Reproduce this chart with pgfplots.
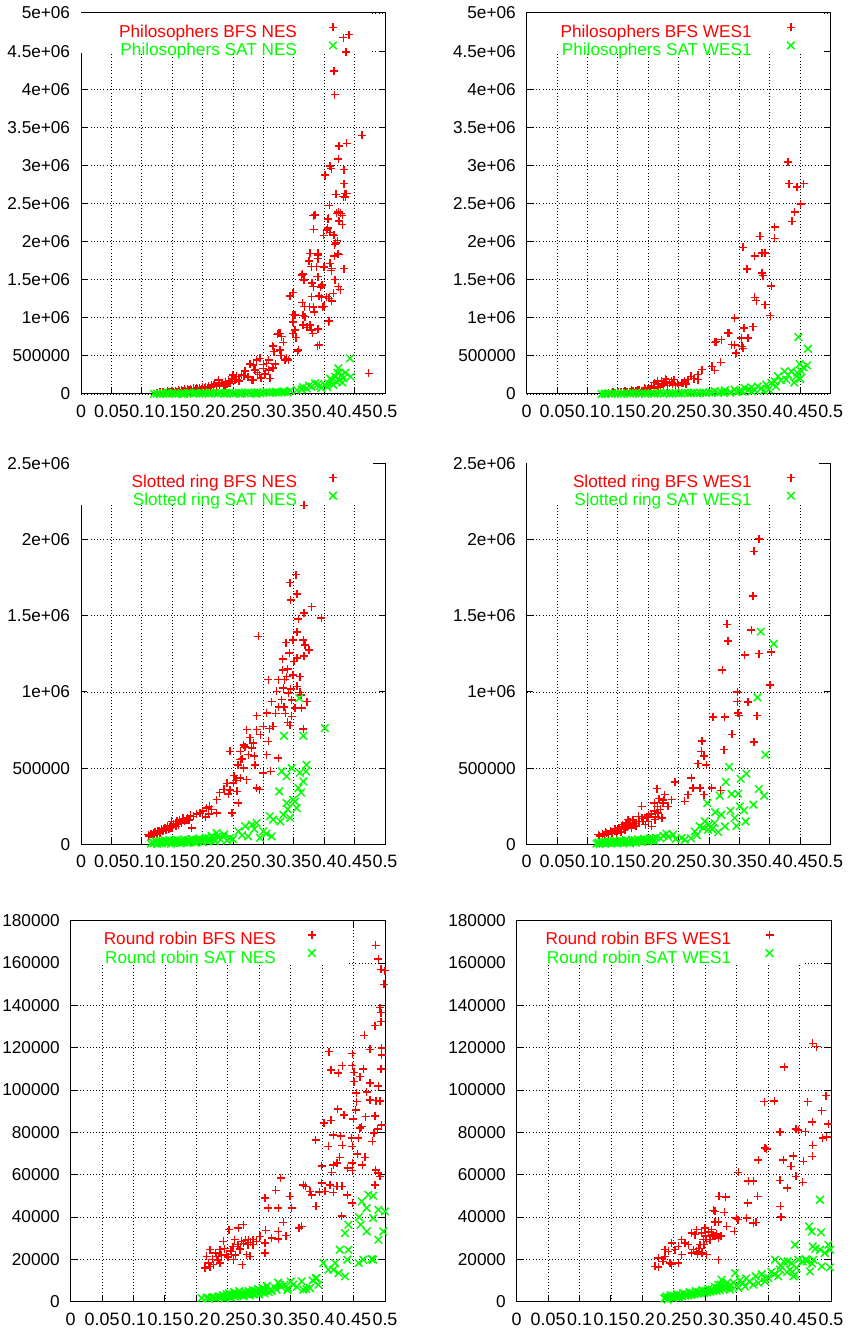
\documentclass[border=0pt]{standalone}
\usepackage{fontspec}
\setmainfont{Liberation Sans}
\usepackage{pgfplots}
\pgfplotsset{compat=1.18}
\definecolor{gpred}{RGB}{255,0,0}
\definecolor{gpgreen}{RGB}{0,255,0}
\pgfplotsset{
 gp/.style={scale only axis, width=228pt, height=285.75pt, anchor=north west,
  xmin=0, xmax=0.5, ymin=0, clip=false,
  axis line style={line width=0.75pt}, tick style={line width=0.75pt, black},
  major tick length=4.7pt, tick align=inside, minor tick num=0,
  xtick={0,0.05,0.1,0.15,0.2,0.25,0.3,0.35,0.4,0.45,0.5},
  xticklabels={0,0.05,0.1,0.15,0.2,0.25,0.3,0.35,0.4,0.45,0.5},
  scaled ticks=false,
  grid=major, grid style={dotted, black, line width=0.6pt},
  tick label style={font=\fontsize{12.9}{15}\selectfont, inner sep=0pt},
  xticklabel style={yshift=-8pt, font=\fontsize{13.4}{15}\selectfont}, yticklabel style={xshift=-8pt},
  /pgf/number format/assume math mode=true,
  legend cell align=right, legend plot pos=right,
  legend image code/.code={\draw[##1] plot coordinates {(0pt,4.4pt)};},
  legend style={draw=none, fill=none, inner sep=0pt, anchor=north east,
    font=\fontsize{12.9}{15}\selectfont,
    nodes={inner sep=0pt, text height=9.5pt, text depth=3.25pt}},
 },
 bfs/.style={only marks, mark=+, mark size=3pt, draw=gpred, fill=gpred,
   mark options={draw=gpred, fill=gpred, line width=1.1pt, solid}},
 sat/.style={only marks, mark=x, mark size=4pt, draw=gpgreen, fill=gpgreen,
   mark options={draw=gpgreen, fill=gpgreen, line width=1.1pt, solid}},
 ytA/.style={ymax=5000000, ytick={0,500000,1000000,1500000,2000000,2500000,3000000,3500000,4000000,4500000,5000000},
   yticklabels={0,500000,1e+06,1.5e+06,2e+06,2.5e+06,3e+06,3.5e+06,4e+06,4.5e+06,5e+06}},
 ytB/.style={ymax=2500000, ytick={0,500000,1000000,1500000,2000000,2500000},
   yticklabels={0,500000,1e+06,1.5e+06,2e+06,2.5e+06}},
 ytC/.style={ymax=180000, ytick={0,20000,40000,60000,80000,100000,120000,140000,160000,180000},
   yticklabels={0,20000,40000,60000,80000,100000,120000,140000,160000,180000}},
}
\begin{document}
\begin{tikzpicture}
\useasboundingbox (0,0) rectangle (638.25pt,-997.5pt);

% ---------------- Panel 1 ----------------
\begin{axis}[gp, ytA, at={(60.75pt,-9.75pt)},
  legend style={at={(axis description cs:0.843,1)}, yshift=-7.5pt, column sep=24pt}]
\fill[white] (rel axis cs:0,1) rectangle (rel axis cs:0.95,0.895);
\addplot[bfs] coordinates {
(0.125,10000) (0.13,20000) (0.135,25000) (0.138,12000) (0.142,35000) (0.145,20000) (0.148,30000) (0.15,40000) (0.152,25000) (0.155,45000) (0.158,30000) (0.16,50000) (0.162,35000) (0.165,55000) (0.168,40000) (0.17,60000) (0.172,45000) (0.175,65000) (0.178,50000) (0.18,70000) (0.182,55000) (0.185,75000) (0.188,60000) (0.19,80000) (0.192,65000) (0.195,85000) (0.198,70000) (0.2,90000) (0.203,75000) (0.205,95000) (0.208,80000) (0.21,100000) (0.213,85000) (0.215,115000) (0.218,95000) (0.22,130000) (0.223,105000) (0.226,150000) (0.228,120000) (0.232,140000) (0.235,110000) (0.238,160000) (0.24,130000) (0.243,180000) (0.248,200000) (0.253,190000) (0.256,230000) (0.26,170000) (0.268,240000)
(0.4408,4715000) (0.4315,4676000) (0.4359,4488000) (0.416,4239000) (0.4172,3928000) (0.4622,3395000) (0.437,3290000) (0.4243,3255000) (0.4232,3080000) (0.4095,2990000) (0.412,2957000) (0.402,2865000) (0.4326,2944000) (0.4326,2760000) (0.4194,2620000) (0.437,2629000) (0.435,2585000) (0.4084,2476000) (0.4238,2384000) (0.427,2371000) (0.43,2345000) (0.382,2340000) (0.3827,2161000) (0.4243,2270000) (0.43,2222000) (0.406,2297000) (0.4057,2178000) (0.4095,2122000) (0.399,2082000) (0.416,2082000) (0.4216,2012000) (0.417,1960000) (0.4238,1833000) (0.4167,1811000) (0.3766,1846000) (0.39,1846000) (0.375,1745000) (0.3898,1776000) (0.3787,1671000) (0.4002,1662000) (0.4326,1645000) (0.4117,1619000) (0.3876,1671000) (0.3646,1575000) (0.3668,1496000) (0.39,1540000) (0.3799,1457000) (0.4172,1500000) (0.4265,1369000) (0.3942,1404000) (0.3914,1286000) (0.3958,1264000) (0.4079,1255000) (0.415,1320000) (0.4123,1220000) (0.397,1142000) (0.4079,958000) (0.3438,1286000) (0.349,1330000) (0.364,1200000) (0.3673,1146000) (0.382,1142000) (0.384,1076000) (0.349,1041000) (0.349,945000) (0.365,1032000) (0.365,905000) (0.3717,875000) (0.3766,905000) (0.39,853000) (0.381,796000) (0.389,634000) (0.3487,796000) (0.3536,739000) (0.356,556000) (0.3229,783000) (0.327,796000) (0.3328,678000) (0.315,634000) (0.3174,556000) (0.338,468000) (0.329,507000) (0.3196,394000) (0.3087,446000) (0.2889,446000) (0.3,389000) (0.3087,315000) (0.278,394000) (0.2862,315000) (0.2933,254000) (0.2834,184000) (0.264,249000) (0.25,249000) (0.256,192000) (0.245,140000) (0.237,105000) (0.2259,184000) (0.2177,118000) (0.473,271000) (0.3163,621000) (0.3245,796000) (0.33,752000) (0.3273,577000) (0.3355,446000) (0.341,446000) (0.352,1037000) (0.352,840000) (0.3574,577000) (0.363,1562000) (0.3684,1014000) (0.3755,1146000) (0.3794,1277000) (0.3794,840000) (0.382,1408000) (0.3903,1824000) (0.3887,1540000) (0.385,2349000) (0.392,643000) (0.396,1430000) (0.4,1150000) (0.404,1277000) (0.4068,949000) (0.4095,1715000) (0.4,1670000) (0.404,2152000) (0.4068,2306000) (0.4013,2874000) (0.4205,2371000) (0.4232,2390000) (0.415,2087000) (0.419,1980000) (0.423,1840000) (0.4123,1650000) (0.4177,1500000) (0.4232,1410000) (0.4315,2590000) (0.434,2630000) (0.4232,3090000) (0.3054,403000) (0.311,206000) (0.316,341000) (0.3,337000) (0.2944,468000) (0.281,184000) (0.2834,380000) (0.27,300000) (0.275,220000) (0.29,280000) (0.296,210000) (0.303,260000)
};
\addlegendentry{\textcolor{gpred}{Philosophers BFS NES}}
\addplot[sat] coordinates {
(0.12,2000) (0.125,5000) (0.13,3000) (0.135,8000) (0.14,4000) (0.145,6000) (0.15,10000) (0.155,3000) (0.16,7000) (0.165,12000) (0.17,5000) (0.175,9000) (0.18,14000) (0.185,6000) (0.19,11000) (0.195,4000) (0.2,8000) (0.205,13000) (0.21,5000) (0.215,10000) (0.22,15000) (0.225,7000) (0.23,12000) (0.235,4000) (0.24,9000) (0.245,16000) (0.25,6000) (0.255,11000) (0.26,18000) (0.265,8000) (0.27,13000) (0.275,20000) (0.28,10000) (0.285,15000) (0.29,22000) (0.295,12000) (0.3,18000) (0.305,25000) (0.31,14000) (0.315,20000) (0.32,28000) (0.325,16000) (0.33,24000) (0.335,30000) (0.34,20000) (0.142,15000) (0.168,2000) (0.188,16000) (0.212,18000) (0.238,14000) (0.262,3000) (0.288,5000)
(0.4424,468000) (0.4435,227000) (0.4232,337000) (0.4216,280000) (0.418,227000) (0.412,184000) (0.4287,249000) (0.4315,206000) (0.407,140000) (0.401,118000) (0.393,105000) (0.385,140000) (0.379,96000) (0.371,74000) (0.363,61000) (0.355,52000) (0.344,44000) (0.333,31000) (0.322,26000) (0.43,150000) (0.425,180000) (0.415,120000) (0.405,90000) (0.395,80000) (0.375,110000) (0.365,90000) (0.39,130000) (0.42,160000) (0.435,280000) (0.41,200000)
};
\addlegendentry{\textcolor{gpgreen}{Philosophers SAT NES}}
\end{axis}

% ---------------- Panel 2 ----------------
\begin{axis}[gp, ytA, at={(395pt,-9.75pt)},
  legend style={at={(axis description cs:0.883,1)}, yshift=-7.5pt, column sep=26.3pt}]
\fill[white] (rel axis cs:0,1) rectangle (rel axis cs:0.974,0.895);
\addplot[bfs] coordinates {
(0.43,3046000) (0.4316,2762000) (0.4447,2714000) (0.4556,2762000) (0.4507,2496000) (0.4409,2386000) (0.4365,2264000) (0.408,2194000) (0.408,2041000) (0.3834,2067000) (0.356,1923000) (0.3872,1849000) (0.3916,1849000) (0.375,1814000) (0.3625,1643000) (0.387,1587000) (0.389,1552000) (0.4025,1420000) (0.375,1267000) (0.378,1224000) (0.3916,1171000) (0.4009,1027000) (0.372,883000) (0.3576,865000) (0.342,996000) (0.331,800000) (0.353,734000) (0.364,734000) (0.337,647000) (0.345,538000) (0.354,625000) (0.32,712000) (0.309,677000) (0.319,415000) (0.305,363000) (0.309,310000) (0.2886,319000) (0.282,253000) (0.282,188000) (0.2656,188000) (0.257,144000) (0.238,166000) (0.227,144000) (0.216,100000) (0.205,92000) (0.194,79000) (0.183,57000) (0.1725,48000) (0.1616,35000) (0.15,26000) (0.142,22000)
(0.13,8000) (0.135,12000) (0.14,18000) (0.145,10000) (0.15,15000) (0.155,25000) (0.16,20000) (0.165,30000) (0.17,22000) (0.175,40000) (0.18,35000) (0.185,50000) (0.19,45000) (0.195,60000) (0.2,70000) (0.2,50000) (0.205,110000) (0.21,80000) (0.215,130000) (0.22,90000) (0.222,170000) (0.225,120000) (0.23,190000) (0.232,110000) (0.235,150000) (0.24,130000) (0.242,190000) (0.245,110000) (0.248,140000) (0.25,120000) (0.255,150000) (0.26,170000) (0.262,130000) (0.27,230000) (0.275,200000) (0.21,150000) (0.215,170000) (0.228,200000) (0.3325,796000) (0.3117,686000) (0.342,646000) (0.3557,600000) (0.3436,530000)
};
\addlegendentry{\textcolor{gpred}{Philosophers BFS WES1}}
\addplot[sat] coordinates {
(0.447,747000) (0.4627,594000) (0.461,376000) (0.449,393000) (0.452,297000) (0.4436,232000) (0.435,297000) (0.424,297000) (0.427,188000) (0.4135,232000) (0.408,166000) (0.4025,144000) (0.394,122000) (0.38,100000) (0.3697,87000) (0.3587,79000) (0.342,57000) (0.326,48000) (0.309,39000) (0.45,200000) (0.44,150000) (0.43,250000) (0.418,180000) (0.41,100000) (0.455,350000) (0.445,280000) (0.398,60000) (0.385,70000) (0.375,50000) (0.365,60000) (0.35,40000) (0.335,30000) (0.32,25000) (0.3,20000)
(0.123,2000) (0.128,5000) (0.13,1000) (0.135,8000) (0.14,3000) (0.145,6000) (0.15,10000) (0.155,2000) (0.16,7000) (0.165,12000) (0.17,4000) (0.175,9000) (0.18,14000) (0.185,5000) (0.19,11000) (0.195,3000) (0.2,8000) (0.205,13000) (0.21,5000) (0.215,10000) (0.22,15000) (0.225,6000) (0.23,12000) (0.235,3000) (0.24,9000) (0.245,16000) (0.25,6000) (0.255,11000) (0.26,17000) (0.265,8000) (0.27,13000) (0.275,19000) (0.28,10000) (0.285,15000) (0.29,22000) (0.295,12000) (0.305,18000) (0.315,14000) (0.325,20000) (0.335,15000) (0.345,25000) (0.355,30000) (0.37,35000) (0.39,45000)
};
\addlegendentry{\textcolor{gpgreen}{Philosophers SAT WES1}}
\end{axis}

% ---------------- Panel 3 ----------------
\begin{axis}[gp, ytB, at={(60.75pt,-347.5pt)},
  legend style={at={(axis description cs:0.843,1)}, yshift=-7.5pt, column sep=24pt}]
\fill[white] (rel axis cs:0,1) rectangle (rel axis cs:0.96,0.89);
\addplot[bfs] coordinates {
(0.3668,2225000) (0.3536,1770000) (0.3438,1718000) (0.355,1643000) (0.345,1604000) (0.3794,1560000) (0.3668,1517000) (0.3575,1480000) (0.3953,1484000) (0.2917,1364000) (0.355,1392000) (0.349,1342000) (0.337,1324000) (0.3657,1342000) (0.3684,1309000) (0.375,1276000) (0.3426,1254000) (0.3668,1237000) (0.3317,1217000) (0.355,1222000) (0.3317,1145000) (0.338,1101000) (0.349,1112000) (0.308,1080000) (0.3246,1080000) (0.355,1036000) (0.333,1025000) (0.3218,1003000) (0.341,992000) (0.3602,997000) (0.3465,948000) (0.372,937000) (0.3136,937000) (0.334,900000) (0.352,894000) (0.363,894000) (0.3465,839000) (0.3054,861000) (0.2888,844000) (0.2998,774000) (0.316,774000) (0.3438,780000) (0.3657,756000) (0.2725,752000) (0.2888,752000) (0.308,675000) (0.2834,664000) (0.2675,653000) (0.2807,631000) (0.262,610000) (0.245,610000) (0.2752,588000) (0.3054,588000) (0.3246,566000) (0.262,555000) (0.2862,522000) (0.2675,500000) (0.2998,468000) (0.312,479000) (0.262,435000) (0.2725,424000) (0.2505,402000) (0.2888,369000) (0.245,358000) (0.2565,347000) (0.2423,330000) (0.2588,271000) (0.223,293000) (0.248,205000) (0.211,249000) (0.223,205000) (0.2067,238000) (0.1957,205000) (0.185,184000) (0.182,107000) (0.174,162000) (0.1656,140000) (0.157,118000) (0.149,151000) (0.1464,107000) (0.1354,96000) (0.127,85000) (0.119,74000) (0.1107,63000)
(0.112,55000) (0.115,65000) (0.118,60000) (0.12,70000) (0.122,80000) (0.125,70000) (0.128,90000) (0.13,75000) (0.132,100000) (0.135,85000) (0.138,110000) (0.14,95000) (0.142,120000) (0.145,100000) (0.148,125000) (0.15,110000) (0.152,135000) (0.155,120000) (0.158,150000) (0.16,130000) (0.162,160000) (0.165,140000) (0.168,170000) (0.17,150000) (0.175,175000) (0.178,160000) (0.18,190000) (0.19,200000) (0.2,220000) (0.205,180000) (0.21,200000) (0.215,230000) (0.228,340000) (0.235,360000) (0.24,400000) (0.252,450000) (0.255,420000) (0.258,520000) (0.265,560000) (0.27,640000) (0.278,700000) (0.285,580000) (0.295,720000) (0.31,760000) (0.32,860000) (0.325,900000) (0.33,950000) (0.335,1080000) (0.34,1150000) (0.35,1200000) (0.345,1020000) (0.36,1100000) (0.362,980000) (0.336,860000) (0.34,800000) (0.2933,359000)
};
\addlegendentry{\textcolor{gpred}{Slotted ring BFS NES}}
\addplot[sat] coordinates {
(0.359,959000) (0.401,763000) (0.3657,712000) (0.334,712000) (0.371,522000) (0.37,479000) (0.3465,500000) (0.338,446000) (0.33,479000) (0.3657,413000) (0.3575,369000) (0.326,347000) (0.349,293000) (0.338,271000) (0.3547,238000) (0.3328,194000) (0.3438,173000) (0.316,162000) (0.3107,184000) (0.2888,140000) (0.27,118000) (0.281,129000) (0.259,85000) (0.2998,85000) (0.3136,52000) (0.2944,42000) (0.275,52000) (0.245,42000) (0.223,74000) (0.234,52000) (0.265,60000) (0.285,100000) (0.305,70000) (0.362,340000) (0.352,280000) (0.328,150000) (0.34,230000) (0.36,470000)
(0.115,5000) (0.118,15000) (0.12,8000) (0.123,20000) (0.125,3000) (0.128,12000) (0.13,22000) (0.133,6000) (0.135,16000) (0.138,25000) (0.14,9000) (0.143,18000) (0.145,28000) (0.148,4000) (0.15,14000) (0.153,24000) (0.155,10000) (0.158,30000) (0.16,17000) (0.163,7000) (0.165,26000) (0.168,13000) (0.17,32000) (0.173,20000) (0.175,9000) (0.178,28000) (0.18,15000) (0.183,35000) (0.185,22000) (0.188,11000) (0.19,30000) (0.193,18000) (0.195,38000) (0.198,25000) (0.2,14000) (0.203,33000) (0.205,45000) (0.208,20000) (0.21,40000) (0.213,28000) (0.215,55000) (0.218,35000) (0.22,22000) (0.225,48000) (0.23,30000) (0.235,65000) (0.24,25000) (0.25,35000)
};
\addlegendentry{\textcolor{gpgreen}{Slotted ring SAT NES}}
\end{axis}

% ---------------- Panel 4 ----------------
\begin{axis}[gp, ytB, at={(395pt,-347.5pt)},
  legend style={at={(axis description cs:0.883,1)}, yshift=-7.5pt, column sep=26.3pt}]
\fill[white] (rel axis cs:0,1) rectangle (rel axis cs:0.96,0.89);
\addplot[bfs] coordinates {
(0.3823,2004000) (0.374,1923000) (0.3724,1630000) (0.3297,1444000) (0.3313,1333000) (0.3697,1405000) (0.3587,1243000) (0.3823,1252000) (0.4025,1261000) (0.322,1145000) (0.4003,1045000) (0.3467,1001000) (0.3467,937000) (0.364,933000) (0.3067,837000) (0.3258,837000) (0.3478,861000) (0.35,844000) (0.379,844000) (0.3379,721000) (0.2886,677000) (0.2875,610000) (0.292,581000) (0.3247,621000) (0.374,673000) (0.282,529000) (0.2957,522000) (0.271,435000) (0.2437,409000) (0.304,369000) (0.319,354000) (0.2738,369000) (0.2848,369000) (0.292,326000) (0.2656,326000) (0.26,282000) (0.2147,365000) (0.227,326000) (0.2382,293000) (0.2245,271000) (0.21,271000) (0.2327,249000) (0.2163,205000) (0.2229,173000) (0.189,249000) (0.2,194000) (0.1835,184000) (0.167,162000) (0.1917,151000) (0.175,129000) (0.156,118000) (0.1616,96000) (0.145,85000) (0.1314,74000) (0.1177,63000) (0.2054,118000) (0.2108,162000)
(0.12,55000) (0.125,70000) (0.128,60000) (0.13,80000) (0.135,65000) (0.138,90000) (0.14,75000) (0.145,100000) (0.148,70000) (0.15,95000) (0.152,110000) (0.155,80000) (0.158,130000) (0.16,100000) (0.163,140000) (0.165,115000) (0.168,125000) (0.17,145000) (0.172,105000) (0.175,160000) (0.178,135000) (0.18,120000) (0.185,150000) (0.19,170000) (0.195,130000) (0.198,180000) (0.2,150000) (0.205,200000) (0.21,220000) (0.212,180000) (0.215,250000) (0.218,300000) (0.22,230000) (0.225,290000)
};
\addlegendentry{\textcolor{gpred}{Slotted ring BFS WES1}}
\addplot[sat] coordinates {
(0.385,1396000) (0.4064,1316000) (0.3795,964000) (0.3927,588000) (0.333,507000) (0.352,430000) (0.3614,463000) (0.3275,409000) (0.382,363000) (0.3905,319000) (0.3176,319000) (0.337,330000) (0.3477,332000) (0.297,271000) (0.373,260000) (0.3505,249000) (0.3576,223000) (0.32,194000) (0.342,173000) (0.309,140000) (0.326,118000) (0.293,151000) (0.2848,118000) (0.2985,96000) (0.2766,85000) (0.241,63000) (0.2547,42000) (0.2327,48000) (0.305,100000) (0.315,80000) (0.29,110000) (0.28,60000) (0.3,130000) (0.335,220000) (0.36,150000) (0.345,120000) (0.31,210000) (0.27,40000) (0.26,30000) (0.245,35000) (0.225,55000) (0.23,70000) (0.22,40000)
(0.115,5000) (0.118,12000) (0.12,3000) (0.123,15000) (0.125,8000) (0.128,18000) (0.13,4000) (0.133,12000) (0.135,20000) (0.138,7000) (0.14,16000) (0.143,24000) (0.145,10000) (0.148,20000) (0.15,5000) (0.153,14000) (0.155,25000) (0.158,9000) (0.16,18000) (0.163,28000) (0.165,12000) (0.168,22000) (0.17,7000) (0.173,30000) (0.175,16000) (0.178,26000) (0.18,10000) (0.183,33000) (0.185,20000) (0.188,28000) (0.19,14000) (0.193,36000) (0.195,24000) (0.198,32000) (0.2,18000) (0.203,40000) (0.205,28000) (0.208,36000) (0.21,22000) (0.213,44000)
};
\addlegendentry{\textcolor{gpgreen}{Slotted ring SAT WES1}}
\end{axis}

% ---------------- Panel 5 ----------------
\begin{axis}[gp, ytC, width=235.75pt, at={(53pt,-690.5pt)},
  legend style={at={(axis description cs:0.781,1)}, yshift=-7.5pt, column sep=24pt}]
\fill[white] (rel axis cs:0,1) rectangle (rel axis cs:0.883,0.885);
\addplot[bfs] coordinates {
(0.4852,168350) (0.4894,161900) (0.4936,157030) (0.5,156400) (0.4984,149950) (0.492,138930) (0.4936,136570) (0.484,130440) (0.4936,132320) (0.467,125870) (0.476,119260) (0.4947,119740) (0.4947,116590) (0.4936,109980) (0.411,118160) (0.448,111550) (0.432,111550) (0.448,117220) (0.414,109500) (0.4258,107930) (0.4507,108400) (0.4655,109820) (0.46,106360) (0.4507,104000) (0.476,103210) (0.4894,101960) (0.4544,98490) (0.4708,98960) (0.476,95350) (0.4857,95030) (0.455,94560) (0.492,94870) (0.4247,90940) (0.4533,90630) (0.435,88270) (0.469,87480) (0.4841,87800) (0.403,84340) (0.414,85600) (0.4496,86220) (0.4629,82760) (0.46,81980) (0.4947,83550) (0.4883,81500) (0.4825,79610) (0.418,78830) (0.4295,78350) (0.447,77250) (0.4576,77250) (0.3897,76470) (0.4098,73320) (0.448,73320) (0.432,73790) (0.48,75680) (0.4279,68130) (0.456,69700) (0.468,68130) (0.448,65450) (0.4639,64670) (0.3993,64200) (0.418,64670) (0.4236,65450) (0.4406,63090) (0.448,61990) (0.4852,62300) (0.4894,60730) (0.492,59160) (0.415,61050) (0.4125,55230) (0.4236,54440) (0.4316,54440) (0.4045,52080) (0.418,51610) (0.484,55230) (0.3993,56010) (0.3955,51770) (0.3807,52080) (0.3834,50510) (0.37,55230) (0.3738,54440) (0.39,45000) (0.4401,50510) (0.448,46570) (0.4311,40590)
(0.334,58370) (0.326,52550) (0.349,49720) (0.3515,44210) (0.309,48930) (0.3144,44210) (0.3303,44210) (0.3383,37450) (0.3675,35560) (0.3632,34770) (0.3303,33200) (0.3425,31150) (0.3303,29580) (0.3197,30050) (0.31,33670) (0.309,27690) (0.29,29270) (0.29,26900) (0.2959,28480) (0.301,30840) (0.2826,29270) (0.261,29270) (0.272,28480) (0.2747,36350) (0.2667,34770) (0.252,33990) (0.28,22190) (0.2693,24550) (0.256,23760) (0.248,22190) (0.2428,28480) (0.2375,24550) (0.232,21400) (0.227,17460) (0.2216,24550) (0.2163,21400) (0.2137,15890) (0.219,18250) (0.2587,19830) (0.273,17460) (0.2853,21400) (0.309,22970) (0.2375,18250)
(0.222,16500) (0.226,20000) (0.23,23000) (0.234,19500) (0.24,22000) (0.245,25000) (0.25,21000) (0.254,24000) (0.258,26000) (0.262,22000) (0.266,27000) (0.27,25000) (0.275,27500) (0.278,29000) (0.282,27000) (0.286,28000)
};
\addlegendentry{\textcolor{gpred}{Round robin BFS NES}}
\addplot[sat] coordinates {
(0.4735,50510) (0.481,50040) (0.463,47360) (0.4708,44210) (0.4894,43430) (0.5,42640) (0.4586,39960) (0.481,39490) (0.4613,36350) (0.4417,36350) (0.4973,33200) (0.4708,33200) (0.4364,32410) (0.4894,29270) (0.4205,18250) (0.44,19830) (0.4417,24550) (0.428,24550) (0.4581,18250) (0.4655,19830) (0.4788,20140) (0.481,19830) (0.4019,18250) (0.41,15100) (0.418,15100) (0.4263,13530) (0.4364,11960) (0.3913,11170) (0.394,8020) (0.3807,6450) (0.3675,9600) (0.37,5660) (0.354,8020) (0.346,6450) (0.333,8020) (0.3277,5660) (0.3118,7240) (0.3065,4880) (0.296,4090) (0.2853,4090) (0.2747,3780) (0.264,3300) (0.2534,2830) (0.248,2520) (0.2375,2200) (0.227,2200) (0.2163,1890) (0.2084,1730)
(0.24,2000) (0.242,3000) (0.245,1500) (0.248,3500) (0.25,2500) (0.252,4000) (0.255,2000) (0.258,3000) (0.26,4500) (0.262,2500) (0.265,3500) (0.268,5000) (0.27,3000) (0.272,4000) (0.275,2500) (0.278,4500) (0.28,3500) (0.283,5000) (0.285,3000) (0.288,4000) (0.29,5500) (0.292,3500) (0.295,4500) (0.298,6000) (0.3,3500) (0.303,5000) (0.305,6500) (0.308,4000) (0.31,5500) (0.312,7500) (0.315,4500) (0.318,6000) (0.32,5000) (0.325,6500) (0.33,9000) (0.335,7000) (0.34,8000) (0.345,5500) (0.35,9500) (0.36,7000) (0.375,6000) (0.385,10000) (0.39,11000) (0.22,1500) (0.225,2000) (0.23,1800) (0.235,2500)
};
\addlegendentry{\textcolor{gpgreen}{Round robin SAT NES}}
\end{axis}

% ---------------- Panel 6 ----------------
\begin{axis}[gp, ytC, width=235.75pt, at={(387.5pt,-690.5pt)},
  legend style={at={(axis description cs:0.818,1)}, yshift=-7.5pt, column sep=25.8pt}]
\fill[white] (rel axis cs:0,1) rectangle (rel axis cs:0.917,0.885);
\addplot[bfs] coordinates {
(0.4708,122100) (0.4772,120520) (0.4258,110770) (0.394,94560) (0.41,94870) (0.4629,94560) (0.492,97400) (0.4852,90310) (0.4958,84020) (0.4703,84810) (0.4189,80090) (0.4443,81660) (0.448,81190) (0.459,80400) (0.4867,77250) (0.493,77730) (0.4708,73790) (0.395,72530) (0.3977,72060) (0.44,68920) (0.4703,68600) (0.4242,67030) (0.3844,67030) (0.456,66240) (0.4364,63880) (0.4443,59160) (0.3526,61050) (0.455,56330) (0.4189,57270) (0.4305,53650) (0.3685,57110) (0.3764,57110) (0.3834,49720) (0.3674,46570) (0.4194,45000) (0.4205,39960) (0.322,49720) (0.3325,49400) (0.3128,43110) (0.3155,42640) (0.3303,42170) (0.3494,39490) (0.352,38710) (0.3659,39490) (0.3764,37130) (0.3807,37450) (0.3155,37610) (0.3208,37610) (0.3462,33200) (0.334,35560) (0.31,33990) (0.2996,34770) (0.2943,32410) (0.2863,33990) (0.2837,31630) (0.2784,32410) (0.3155,30840) (0.3208,30050) (0.3075,29270) (0.297,29270) (0.2916,26900) (0.281,24550) (0.273,26900) (0.2625,29270) (0.2466,27690) (0.2519,24550) (0.2413,23760) (0.236,21400) (0.236,24550) (0.2253,20610) (0.233,19040) (0.2466,17460) (0.2572,18250) (0.2625,22190) (0.2784,22970) (0.2863,23760) (0.2943,22970) (0.3022,22190) (0.3208,19830) (0.22,16680) (0.2253,16370) (0.244,18250) (0.2572,26120) (0.2678,27690)
(0.29,25000) (0.295,23000) (0.3,31000) (0.305,33000) (0.298,27000) (0.312,31500) (0.318,32000) (0.325,31000) (0.288,22500) (0.302,28500)
};
\addlegendentry{\textcolor{gpred}{Round robin BFS WES1}}
\addplot[sat] coordinates {
(0.4825,48150) (0.465,35560) (0.4692,33200) (0.4841,32730) (0.4427,26900) (0.4708,26120) (0.4825,24550) (0.4958,26900) (0.4984,24550) (0.411,19830) (0.431,19040) (0.4374,18250) (0.448,19830) (0.4613,19040) (0.4719,19830) (0.4852,16680) (0.4984,16210) (0.4666,14320) (0.4348,15100) (0.4427,12740) (0.4189,15100) (0.4162,11960) (0.4003,11170) (0.395,9600) (0.3844,8810) (0.3764,8020) (0.3632,7240) (0.3526,6450) (0.3473,13530) (0.3393,5660) (0.326,10380) (0.3208,8020) (0.31,5660) (0.2996,4880) (0.289,4090) (0.2784,3780) (0.2678,3300) (0.2572,2520) (0.2466,2200) (0.236,1730)
(0.235,1500) (0.238,2500) (0.24,1000) (0.243,2000) (0.245,3000) (0.248,1800) (0.25,2800) (0.253,2200) (0.255,3500) (0.258,2000) (0.26,3000) (0.263,2500) (0.265,4000) (0.268,2800) (0.27,3500) (0.273,3000) (0.275,4500) (0.278,3200) (0.28,4000) (0.283,3500) (0.285,5000) (0.288,3800) (0.29,4500) (0.293,4000) (0.295,5500) (0.298,4200) (0.3,5000) (0.303,4500) (0.305,6000) (0.308,4800) (0.31,5500) (0.313,5000) (0.315,7000) (0.318,5200) (0.32,6500) (0.323,5500) (0.325,8000) (0.328,6000) (0.33,7000) (0.333,6500) (0.335,9000) (0.338,7000) (0.34,8000) (0.345,9000) (0.35,7500) (0.355,10000) (0.36,9000) (0.365,11000) (0.37,9500) (0.38,12000) (0.39,13000) (0.395,11000) (0.405,14000) (0.41,13000) (0.42,17000) (0.425,19000) (0.43,14000) (0.44,12000) (0.445,16000) (0.455,19000) (0.46,20000) (0.475,25000) (0.49,23000) (0.47,18000)
};
\addlegendentry{\textcolor{gpgreen}{Round robin SAT WES1}}
\end{axis}
\end{tikzpicture}
\end{document}
